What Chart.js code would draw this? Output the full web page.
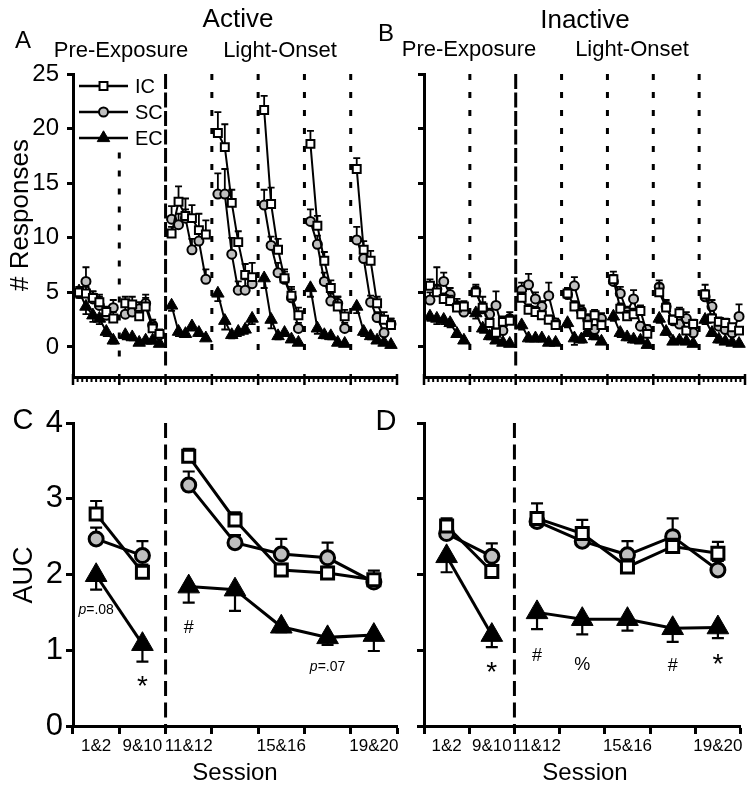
<!DOCTYPE html>
<html lang="en">
<head>
<meta charset="UTF-8">
<title>Active / Inactive responses</title>
<script src="https://cdn.jsdelivr.net/npm/chart.js"></script>
<style>
  body { margin: 0; background: #fff; }
  #wrap { position: relative; width: 754px; height: 788px; overflow: hidden;
          font-family: 'Liberation Sans', Arial, sans-serif; color: #000; }
  #wrap canvas { position: absolute; left: 0; top: 0; }
  .t { position: absolute; white-space: nowrap; line-height: 1; transform: translate(-50%, -50%); }
  .rot { transform: translate(-50%, -50%) rotate(-90deg); }
</style>
</head>
<body>
<div id="wrap">
  <canvas id="chartA" width="754" height="788"></canvas>
  <canvas id="chartB" width="754" height="788"></canvas>
  <canvas id="chartC" width="754" height="788"></canvas>
  <canvas id="chartD" width="754" height="788"></canvas>

  <div class="t" style="left:238px;top:18px;font-size:26px">Active</div>
  <div class="t" style="left:585px;top:19px;font-size:26px">Inactive</div>
  <div class="t" style="left:23px;top:40px;font-size:24px">A</div>
  <div class="t" style="left:386px;top:33px;font-size:24px">B</div>
  <div class="t" style="left:121px;top:50px;font-size:22px">Pre-Exposure</div>
  <div class="t" style="left:280px;top:50px;font-size:22px">Light-Onset</div>
  <div class="t" style="left:469px;top:49px;font-size:22px">Pre-Exposure</div>
  <div class="t" style="left:632px;top:49px;font-size:22px">Light-Onset</div>
  <div class="t rot" style="left:19px;top:215px;font-size:26px"># Responses</div>

  <div class="t" style="left:23px;top:419px;font-size:29px">C</div>
  <div class="t" style="left:386px;top:420px;font-size:29px">D</div>
  <div class="t rot" style="left:23px;top:575px;font-size:27px">AUC</div>
  <div class="t" style="left:235px;top:772px;font-size:24px">Session</div>
  <div class="t" style="left:585px;top:772px;font-size:24px">Session</div>
</div>

<script>
// ---------- data ----------
const segments = ['1&2', '9&10', '11&12', '13&14', '15&16', '17&18', '19&20'];
const shownSessionLabels = ['1&2', '9&10', '11&12', '15&16', '19&20'];
const lastPreExposure = '9&10';
const binPos = [1.3, 2.8, 4.3, 5.7, 7.2, 8.7];   // 6 bins inside each 10-unit segment
const responseTicks = [0, 5, 10, 15, 20, 25];
const aucTicks = [0, 1, 2, 3, 4];

// # responses per bin, 7 segments x 6 bins
const activeIC = [
  5.0, 4.9, 4.5, 4.1, 3.2, 2.6,
  4.0, 3.9, 2.8, 3.7, 1.7, 1.2,
  10.4, 13.3, 12.0, 11.8, 10.7, 10.3,
  19.6, 18.3, 13.2, 9.6, 6.6, 6.4,
  21.7, 13.1, 8.9, 6.3, 4.7, 2.9,
  18.6, 11.1, 7.9, 5.4, 3.7, 2.8,
  16.3, 8.9, 7.9, 4.0, 2.5, 2.0
];
const activeICErr = [
  0.5, 0.6, 0.6, 0.7, 0.5, 0.6,
  0.6, 0.7, 0.5, 0.8, 0.5, 0.4,
  0.6, 1.4, 1.6, 1.2, 1.5, 1.3,
  1.9, 2.1, 1.2, 1.0, 1.0, 1.3,
  1.3, 1.5, 1.0, 0.8, 0.8, 0.7,
  1.2, 0.9, 0.8, 0.7, 0.9, 0.6,
  1.0, 0.8, 0.9, 0.6, 0.7, 0.6
];
const activeSC = [
  4.9, 6.0, 4.4, 3.8, 2.9, 3.6,
  3.0, 3.2, 3.5, 4.0, 2.0, 1.1,
  11.7, 11.2, 11.8, 8.9, 9.7, 6.2,
  14.0, 14.0, 8.5, 5.2, 5.2, 5.8,
  13.0, 9.3, 6.8, 6.2, 4.5, 1.7,
  11.5, 9.4, 6.0, 4.2, 4.0, 1.7,
  9.8, 8.1, 4.1, 2.7, 1.3, 2.1
];
const activeSCErr = [
  0.6, 1.3, 0.7, 0.8, 0.6, 0.7,
  0.7, 0.6, 0.6, 0.8, 0.5, 0.4,
  1.2, 1.0, 0.8, 1.0, 1.2, 0.9,
  1.9, 2.3, 1.5, 0.8, 1.0, 0.8,
  1.4, 0.8, 0.9, 0.7, 0.8, 0.5,
  1.1, 0.8, 0.8, 0.7, 0.6, 0.5,
  1.2, 0.9, 0.6, 0.5, 0.4, 0.5
];
const activeEC = [
  5.1, 3.7, 2.9, 2.6, 1.4, 0.6,
  1.1, 0.9, 0.4, 0.6, 0.6, 0.3,
  3.8, 1.4, 1.2, 1.9, 1.3, 0.8,
  4.9, 2.4, 1.1, 1.4, 1.6, 2.6,
  6.3, 2.5, 1.0, 1.3, 0.7, 0.4,
  5.4, 1.7, 1.1, 1.0, 0.4, 0.3,
  3.7, 1.4, 1.0, 0.6, 0.4, 0.2
];
const activeECErr = [
  0.6, 0.7, 0.6, 0.5, 0.4, 0.3,
  0.4, 0.3, 0.2, 0.3, 0.3, 0.2,
  0.5, 0.4, 0.3, 0.4, 0.3, 0.2,
  0.7, 0.8, 0.3, 0.4, 0.4, 0.5,
  0.9, 0.8, 0.3, 0.3, 0.2, 0.2,
  0.8, 0.5, 0.3, 0.3, 0.2, 0.1,
  0.6, 0.4, 0.3, 0.2, 0.2, 0.1
];

const inactiveIC = [
  5.6, 5.0, 4.4, 4.2, 3.6, 3.7,
  5.0, 3.6, 2.2, 1.3, 2.3, 2.4,
  4.5, 3.4, 3.2, 2.9, 2.5, 2.0,
  4.9, 3.7, 3.0, 2.0, 2.9, 2.0,
  6.2, 3.5, 2.8, 3.0, 3.3, 1.2,
  5.0, 3.6, 2.5, 3.1, 1.5, 2.1,
  4.8, 2.6, 2.3, 2.2, 1.8, 1.5
];
const inactiveICErr = [
  0.6, 0.6, 0.5, 0.5, 0.5, 0.5,
  0.5, 0.5, 0.4, 0.4, 0.5, 0.5,
  0.5, 0.5, 0.5, 0.4, 0.4, 0.4,
  0.5, 0.5, 0.5, 0.4, 0.5, 0.4,
  0.7, 0.5, 0.5, 0.5, 0.5, 0.3,
  0.8, 0.5, 0.4, 0.5, 0.3, 0.4,
  0.9, 0.4, 0.4, 0.4, 0.3, 0.3
];
const inactiveSC = [
  4.3, 5.3, 6.0, 4.8, 3.8, 3.2,
  5.1, 3.5, 3.0, 3.8, 1.5, 2.6,
  5.2, 5.7, 4.4, 3.7, 4.7, 2.2,
  4.8, 5.6, 3.3, 2.5, 1.6, 2.6,
  6.0, 4.9, 3.2, 4.4, 1.9, 1.6,
  5.5, 3.7, 2.4, 2.1, 2.6, 1.3,
  4.6, 3.7, 1.9, 1.6, 1.3, 2.8
];
const inactiveSCErr = [
  0.7, 2.0, 0.8, 0.6, 0.6, 0.5,
  0.6, 1.1, 0.5, 1.3, 0.4, 0.6,
  0.7, 1.0, 0.6, 0.5, 1.2, 0.4,
  0.6, 0.8, 0.5, 0.5, 0.4, 0.5,
  0.6, 0.6, 0.5, 0.8, 0.4, 0.4,
  0.6, 0.6, 0.4, 0.4, 0.6, 0.3,
  0.6, 0.6, 0.4, 0.4, 0.3, 1.1
];
const inactiveEC = [
  2.8, 2.6, 2.5, 2.2, 1.2, 0.6,
  3.1, 1.7, 1.0, 0.6, 0.4, 0.3,
  2.0, 0.8, 0.8, 0.8, 0.4, 0.4,
  2.2, 0.8, 0.7, 1.4, 1.0, 0.5,
  2.8, 1.3, 0.9, 0.7, 0.6, 0.2,
  2.6, 1.4, 0.5, 0.6, 0.5, 0.3,
  2.5, 1.3, 0.7, 0.5, 0.4, 0.3
];
const inactiveECErr = [
  0.4, 0.5, 0.4, 0.4, 0.3, 0.2,
  0.5, 0.4, 0.3, 0.2, 0.2, 0.1,
  0.4, 0.3, 0.3, 0.3, 0.2, 0.2,
  0.4, 0.6, 0.3, 0.4, 0.3, 0.2,
  0.4, 0.4, 0.3, 0.3, 0.2, 0.1,
  0.4, 0.3, 0.2, 0.2, 0.2, 0.1,
  0.4, 0.3, 0.3, 0.2, 0.2, 0.1
];

// area under the curve per segment
const activeAucIC = [2.80, 2.03, 3.56, 2.72, 2.06, 2.02, 1.93];
const activeAucICErr = [0.17, 0.10, 0.10, 0.10, 0.08, 0.08, 0.12];
const activeAucSC = [2.47, 2.25, 3.18, 2.42, 2.27, 2.22, 1.90];
const activeAucSCErr = [0.15, 0.19, 0.18, 0.10, 0.20, 0.20, 0.10];
const activeAucEC = [1.99, 1.08, 1.84, 1.80, 1.31, 1.17, 1.20];
const activeAucECErr = [0.19, 0.23, 0.21, 0.28, 0.07, 0.10, 0.21];

const inactiveAucIC = [2.64, 2.04, 2.74, 2.54, 2.10, 2.37, 2.28];
const inactiveAucICErr = [0.10, 0.08, 0.20, 0.18, 0.10, 0.10, 0.15];
const inactiveAucSC = [2.54, 2.24, 2.70, 2.44, 2.26, 2.50, 2.06];
const inactiveAucSCErr = [0.10, 0.17, 0.12, 0.12, 0.18, 0.24, 0.12];
const inactiveAucEC = [2.24, 1.20, 1.50, 1.41, 1.41, 1.29, 1.30];
const inactiveAucECErr = [0.21, 0.16, 0.22, 0.20, 0.15, 0.18, 0.14];

// ---------- helpers ----------
const FONT = "'Liberation Sans', Arial, sans-serif";
Chart.defaults.font.family = FONT;
Chart.defaults.color = '#000';
Chart.defaults.animation = false;

function binSeries(vals, errs) {
  const pts = [];
  segments.forEach((s, k) => {
    binPos.forEach((p, i) => pts.push({ x: k * 10 + p, y: vals[k * 6 + i], e: errs[k * 6 + i] }));
    pts.push({ x: k * 10 + 9.5, y: null });
  });
  return pts;
}

const FILL = { rect: '#ffffff', circle: '#bfbfbf', triangle: '#000000' };
const SMALL = { line: 2, pb: 2, r: { rect: 5.6, circle: 4.5, triangle: 7.2 } };
const BIG = { line: 3, pb: 3, r: { rect: 8.5, circle: 7, triangle: 12.5 } };

function series(label, data, kind, size, errDir, err) {
  const breakAt = segments.indexOf(lastPreExposure);
  return {
    label, data, errDir, err,
    borderColor: '#000', borderWidth: size.line,
    pointStyle: kind, pointRadius: size.r[kind], pointHoverRadius: size.r[kind],
    pointBackgroundColor: FILL[kind], pointBorderColor: '#000',
    pointBorderWidth: kind === 'triangle' ? 1 : size.pb,
    spanGaps: false, tension: 0, clip: false,
    // AUC panels: no line across the pre-exposure / light-onset split
    segment: err ? { borderColor: c => c.p0DataIndex === breakAt ? 'rgba(0,0,0,0)' : undefined } : undefined
  };
}

// ---------- plugins ----------
const errorBars = {
  id: 'errorBars',
  beforeDatasetDraw(chart, args, opts) {
    const ds = chart.data.datasets[args.index];
    const y = chart.scales.y;
    const ctx = chart.ctx;
    ctx.save();
    ctx.strokeStyle = '#000';
    ctx.lineWidth = opts.width;
    args.meta.data.forEach((pt, i) => {
      const d = ds.data[i];
      const isObj = d !== null && typeof d === 'object';
      const v = isObj ? d.y : d;
      const e = isObj ? d.e : (ds.err || [])[i];
      if (v == null || !e) return;
      const yEnd = y.getPixelForValue(v + ds.errDir * e);
      ctx.beginPath();
      ctx.moveTo(pt.x, pt.y);
      ctx.lineTo(pt.x, yEnd);
      ctx.moveTo(pt.x - opts.cap, yEnd);
      ctx.lineTo(pt.x + opts.cap, yEnd);
      ctx.stroke();
    });
    ctx.restore();
  }
};

const dividers = {
  id: 'dividers',
  beforeDatasetsDraw(chart, args, opts) {
    const { ctx, scales: { x, y } } = chart;
    (opts.lines || []).forEach(l => {
      const px = x.getPixelForValue(l.at);
      ctx.save();
      ctx.strokeStyle = '#000';
      ctx.lineWidth = l.width;
      ctx.setLineDash(l.dash);
      ctx.beginPath();
      ctx.moveTo(px, y.getPixelForValue(l.from));
      ctx.lineTo(px, y.getPixelForValue(l.to));
      ctx.stroke();
      ctx.restore();
    });
  }
};

// little ticks under each bin column, long ones at segment edges
const binTicks = {
  id: 'binTicks',
  afterDraw(chart, args, opts) {
    if (!opts.step) return;
    const x = chart.scales.x;
    const ctx = chart.ctx;
    const y0 = x.top;
    const n = Math.round((x.max - x.min) / opts.step);
    ctx.save();
    ctx.strokeStyle = '#000';
    for (let i = 0; i <= n; i++) {
      const major = i % opts.every === 0;
      const px = x.getPixelForValue(x.min + i * opts.step);
      ctx.lineWidth = major ? 2.5 : 2;
      ctx.beginPath();
      ctx.moveTo(px, major ? y0 - 3 : y0 + 1);
      ctx.lineTo(px, y0 + (major ? 8 : 5));
      ctx.stroke();
    }
    ctx.restore();
  }
};

const lineLegend = {
  id: 'lineLegend',
  afterDraw(chart, args, opts) {
    if (!opts.show) return;
    const ctx = chart.ctx;
    chart.data.datasets.forEach((ds, i) => {
      const yy = opts.top + i * opts.gap;
      ctx.save();
      ctx.strokeStyle = '#000';
      ctx.lineWidth = 2.5;
      ctx.beginPath();
      ctx.moveTo(opts.left, yy);
      ctx.lineTo(opts.left + opts.len, yy);
      ctx.stroke();
      ctx.fillStyle = ds.pointBackgroundColor;
      ctx.lineWidth = ds.pointBorderWidth;
      Chart.helpers.drawPoint(ctx, { pointStyle: ds.pointStyle, radius: ds.pointRadius, rotation: 0, borderWidth: ds.pointBorderWidth },
        opts.left + opts.len / 2, yy);
      ctx.fillStyle = '#000';
      ctx.font = opts.size + 'px ' + FONT;
      ctx.textBaseline = 'middle';
      ctx.fillText(ds.label, opts.left + opts.len + 7, yy + 1);
      ctx.restore();
    });
  }
};

const notes = {
  id: 'notes',
  afterDraw(chart, args, opts) {
    const ctx = chart.ctx;
    (opts.items || []).forEach(n => {
      const px = chart.scales.x.getPixelForValue(n.at);
      const py = chart.scales.y.getPixelForValue(n.value);
      let w = 0, asc = 0, desc = 0;
      const parts = n.parts.map(([t, it]) => {
        const font = (it ? 'italic ' : '') + n.size + 'px ' + FONT;
        ctx.font = font;
        const m = ctx.measureText(t);
        w += m.width;
        asc = Math.max(asc, m.actualBoundingBoxAscent);
        desc = Math.max(desc, m.actualBoundingBoxDescent);
        return { t, font, width: m.width };
      });
      const base = py + (asc - desc) / 2;
      let cx = px - w / 2;
      ctx.save();
      ctx.fillStyle = '#000';
      ctx.textBaseline = 'alphabetic';
      parts.forEach(p => { ctx.font = p.font; ctx.fillText(p.t, cx, base); cx += p.width; });
      ctx.restore();
    });
  }
};

// ---------- chart builders ----------
function topChart(id, area, showLabels, sets, lines, legend) {
  const yw = showLabels ? 60 : 30;
  return new Chart(document.getElementById(id), {
    type: 'line',
    data: { datasets: sets },
    options: {
      responsive: false,
      events: [],
      layout: { padding: { left: area.l - yw, right: 754 - area.r, top: area.t, bottom: 788 - area.b - 20 } },
      scales: {
        x: {
          type: 'linear', min: 0, max: 70,
          ticks: { display: false },
          grid: { display: false },
          border: { color: '#000', width: 3 },
          afterFit: s => { s.height = 20; }
        },
        y: {
          min: -2.75, max: 25,
          afterBuildTicks: s => { s.ticks = responseTicks.map(v => ({ value: v })); },
          ticks: { display: showLabels, font: { size: 24 }, color: '#000', padding: 8 },
          grid: { drawOnChartArea: false, tickLength: 6, tickWidth: 3, tickColor: '#000' },
          border: { color: '#000', width: 3 },
          afterFit: s => { s.width = yw; }
        }
      },
      plugins: {
        legend: { display: false },
        tooltip: { enabled: false },
        errorBars: { width: 1.8, cap: 3.5 },
        dividers: { lines },
        binTicks: { step: 1, every: 10 },
        lineLegend: legend || { show: false },
        notes: {}
      }
    },
    plugins: [errorBars, dividers, binTicks, lineLegend, notes]
  });
}

function aucChart(id, area, showLabels, sets, items) {
  const yw = showLabels ? 60 : 30;
  return new Chart(document.getElementById(id), {
    type: 'line',
    data: { labels: segments, datasets: sets },
    options: {
      responsive: false,
      events: [],
      layout: { padding: { left: area.l - yw, right: 754 - area.r, top: area.t, bottom: 788 - area.b - 40 } },
      scales: {
        x: {
          type: 'category', offset: true,
          grid: { offset: true, drawOnChartArea: false, tickLength: 8, tickWidth: 3, tickColor: '#000' },
          border: { color: '#000', width: 3 },
          ticks: {
            font: { size: 17 }, color: '#000', padding: 2, autoSkip: false, maxRotation: 0,
            callback: (v, i) => shownSessionLabels.includes(segments[i]) ? segments[i] : ''
          },
          afterFit: s => { s.height = 40; }
        },
        y: {
          min: 0, max: 4,
          afterBuildTicks: s => { s.ticks = aucTicks.map(v => ({ value: v })); },
          ticks: { display: showLabels, font: { size: 31 }, color: '#000', padding: 3 },
          grid: { drawOnChartArea: false, tickLength: 7, tickWidth: 3, tickColor: '#000' },
          border: { color: '#000', width: 3 },
          afterFit: s => { s.width = yw; }
        }
      },
      plugins: {
        legend: { display: false },
        tooltip: { enabled: false },
        errorBars: { width: 2.2, cap: 6 },
        dividers: { lines: [{ at: 1.5, from: 4, to: -0.05, width: 3, dash: [15, 6.5] }] },
        binTicks: {},
        lineLegend: { show: false },
        notes: { items }
      }
    },
    plugins: [errorBars, dividers, binTicks, lineLegend, notes]
  });
}

const DOT = { width: 3, dash: [6, 12] };
const DASH = { width: 3, dash: [15, 3.5] };
function divider(at, from, to, st) { return Object.assign({ at, from, to }, st); }

topChart('chartA', { l: 73, r: 397, t: 74, b: 377 }, true, [
  series('IC', binSeries(activeIC, activeICErr), 'rect', SMALL, 1),
  series('SC', binSeries(activeSC, activeSCErr), 'circle', SMALL, 1),
  series('EC', binSeries(activeEC, activeECErr), 'triangle', SMALL, -1)
], [
  divider(10, 17.8, -1.0, DOT), divider(20, 25, -1.7, DASH), divider(30, 25, -1.0, DOT),
  divider(40, 25, -1.0, DOT), divider(50, 25, -1.0, DOT), divider(60, 25, -1.0, DOT)
], { show: true, left: 79, len: 49, top: 86, gap: 26, size: 20 });

topChart('chartB', { l: 424, r: 745, t: 74, b: 377 }, false, [
  series('IC', binSeries(inactiveIC, inactiveICErr), 'rect', SMALL, 1),
  series('SC', binSeries(inactiveSC, inactiveSCErr), 'circle', SMALL, 1),
  series('EC', binSeries(inactiveEC, inactiveECErr), 'triangle', SMALL, -1)
], [
  divider(10, 25, -1.0, DOT), divider(20, 25, -1.7, DASH), divider(30, 25, -1.0, DOT),
  divider(40, 25, -1.0, DOT), divider(50, 25, -1.0, DOT), divider(60, 25, -1.0, DOT)
]);

aucChart('chartC', { l: 73, r: 397, t: 423, b: 726 }, true, [
  series('IC', activeAucIC, 'rect', BIG, 1, activeAucICErr),
  series('SC', activeAucSC, 'circle', BIG, 1, activeAucSCErr),
  series('EC', activeAucEC, 'triangle', BIG, -1, activeAucECErr)
], [
  { at: 0, value: 1.53, size: 14, parts: [['p', true], ['=.08', false]] },
  { at: 1, value: 0.53, size: 28, parts: [['*', false]] },
  { at: 2, value: 1.32, size: 18, parts: [['#', false]] },
  { at: 5, value: 0.77, size: 14, parts: [['p', true], ['=.07', false]] }
]);

aucChart('chartD', { l: 424, r: 745, t: 423, b: 726 }, false, [
  series('IC', inactiveAucIC, 'rect', BIG, 1, inactiveAucICErr),
  series('SC', inactiveAucSC, 'circle', BIG, 1, inactiveAucSCErr),
  series('EC', inactiveAucEC, 'triangle', BIG, -1, inactiveAucECErr)
], [
  { at: 1, value: 0.72, size: 28, parts: [['*', false]] },
  { at: 2, value: 0.94, size: 18, parts: [['#', false]] },
  { at: 3, value: 0.83, size: 18, parts: [['%', false]] },
  { at: 5, value: 0.81, size: 18, parts: [['#', false]] },
  { at: 6, value: 0.83, size: 28, parts: [['*', false]] }
]);
</script>
</body>
</html>
